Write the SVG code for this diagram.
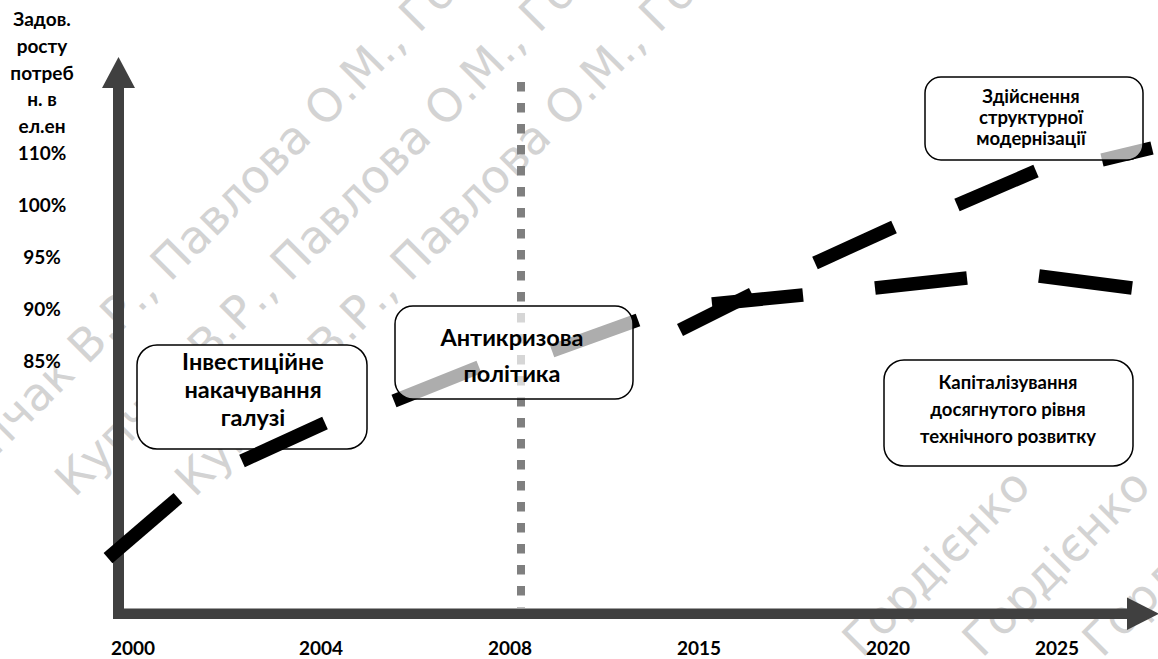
<svg xmlns="http://www.w3.org/2000/svg" width="1158" height="659" viewBox="0 0 1158 659">
  <defs>
    <style>
      .wm{font-family:"DejaVu Sans",sans-serif;font-size:46px;fill:#d3d3d3}
      .ax{fill:#404040}
      .lbl{font-family:Lato,"Open Sans",sans-serif;font-weight:bold;font-size:19px;fill:#000;text-anchor:middle}
      .box{stroke:#000;stroke-width:1.5;fill:#fff}
      .glass{fill-opacity:0.68}
      .bt{font-family:Lato,"Open Sans",sans-serif;font-weight:bold;fill:#000;text-anchor:middle}
      .big{font-size:23.5px}
      .small{font-size:18.5px}
      .seg{stroke:#000;stroke-width:13.5;stroke-linecap:butt}
    </style>
  </defs>

  <rect width="1158" height="659" fill="#fff"/>

  <!-- background watermark -->
  <g id="watermark" class="wm">
    <g transform="translate(170,283) rotate(-45)"><text x="-14" text-anchor="end">Купчак В.Р.,</text><text x="0">Павлова О.М., Гордієнко</text></g>
    <g transform="translate(290,283) rotate(-45)"><text x="-14" text-anchor="end">Купчак В.Р.,</text><text x="0">Павлова О.М., Гордієнко</text></g>
    <g transform="translate(410,283) rotate(-45)"><text x="-14" text-anchor="end">Купчак В.Р.,</text><text x="0">Павлова О.М., Гордієнко</text></g>
    <g transform="translate(862,659) rotate(-45)"><text x="-14" text-anchor="end">Купчак В.Р., Павлова О.М.,</text><text x="0">Гордієнко</text></g>
    <g transform="translate(982,659) rotate(-45)"><text x="-14" text-anchor="end">Купчак В.Р., Павлова О.М.,</text><text x="0">Гордієнко</text></g>
    <g transform="translate(1102,659) rotate(-45)"><text x="-14" text-anchor="end">Купчак В.Р., Павлова О.М.,</text><text x="0">Гордієнко</text></g>
  </g>

  <!-- axes -->
  <g id="axes">
    <rect class="ax" x="113" y="87" width="11" height="532"/>
    <polygon class="ax" points="102,88 135,88 118.5,57"/>
    <rect class="ax" x="113" y="608.5" width="1015" height="10.5"/>
    <polygon class="ax" points="1127,597.5 1127,630 1159,613.75"/>
    <line x1="521" y1="82" x2="521" y2="607.5" stroke="#7f7f7f" stroke-width="8" stroke-dasharray="9.5 11.5"/>
  </g>

  <!-- axis labels -->
  <g id="y-labels" class="lbl">
    <text x="42" y="26">Задов.</text>
    <text x="42" y="53">росту</text>
    <text x="42" y="80">потреб</text>
    <text x="42" y="106">н. в</text>
    <text x="42" y="133">ел.ен</text>
    <text x="42" y="160">110%</text>
    <text x="42" y="212">100%</text>
    <text x="42" y="264">95%</text>
    <text x="42" y="316">90%</text>
    <text x="42" y="368">85%</text>
  </g>
  <g id="x-labels" class="lbl">
    <text x="133" y="655">2000</text>
    <text x="321" y="655">2004</text>
    <text x="510" y="655">2008</text>
    <text x="699" y="655">2015</text>
    <text x="888" y="655">2020</text>
    <text x="1057" y="655">2025</text>
  </g>

  <!-- stage: investment pumping -->
  <g id="node-invest">
    <rect class="box" x="137" y="345" width="230" height="104" rx="20"/>
    <text class="bt big" x="253" y="370">Інвестиційне</text>
    <text class="bt big" x="253" y="398">накачування</text>
    <text class="bt big" x="253" y="426">галузі</text>
  </g>

  <!-- dashed trend lines -->
  <g id="connectors" class="seg">
    <line x1="108" y1="558" x2="178" y2="498"/>
    <line x1="242" y1="461" x2="325" y2="423"/>
    <line x1="394" y1="401" x2="479" y2="367"/>
    <line x1="552" y1="351" x2="638" y2="320"/>
    <line x1="680" y1="330" x2="752" y2="294"/>
    <line x1="815" y1="263" x2="894" y2="227"/>
    <line x1="957" y1="205" x2="1036" y2="171"/>
    <line x1="1102" y1="160" x2="1152" y2="148"/>
    <line x1="712" y1="304" x2="803" y2="295"/>
    <line x1="875" y1="288" x2="967" y2="278"/>
    <line x1="1039" y1="276" x2="1132" y2="288"/>
  </g>

  <!-- stage: anti-crisis policy -->
  <g id="node-anticrisis">
    <rect class="box glass" x="395" y="306" width="238" height="93" rx="18"/>
    <text class="bt big" x="512" y="346">Антикризова</text>
    <text class="bt big" x="512" y="382">політика</text>
  </g>

  <!-- stage: structural modernisation -->
  <g id="node-modern">
    <rect class="box glass" x="925" y="77" width="218" height="83" rx="16"/>
    <text class="bt small" x="1031" y="103">Здійснення</text>
    <text class="bt small" x="1031" y="124">структурної</text>
    <text class="bt small" x="1031" y="145">модернізації</text>
  </g>

  <!-- stage: capitalisation -->
  <g id="node-capital">
    <rect class="box" x="884" y="360" width="249" height="106" rx="20"/>
    <text class="bt small" x="1008" y="389">Капіталізування</text>
    <text class="bt small" x="1008" y="416">досягнутого рівня</text>
    <text class="bt small" x="1008" y="443">технічного розвитку</text>
  </g>
</svg>
